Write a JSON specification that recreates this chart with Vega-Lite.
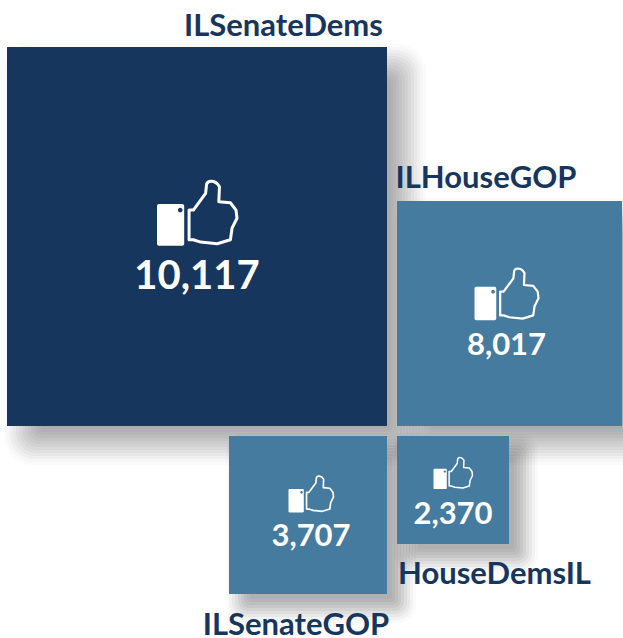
{
"$schema":"https://vega.github.io/schema/vega-lite/v6.json",
"width":623,"height":638,"padding":0,
"autosize":{"type":"none"},
"background":"white",
"config":{"view":{"stroke":null}},
"resolve":{"scale":{"size":"independent"}},
"data":{"values":[
{"account":"ILSenateDems","likes":10117,"tier":"top","left":7,"right":387,"top":47,"bottom":426,"cx":197,"icon_y":213,"value_y":277,"label_x":283.5,"label_y":26.5},
{"account":"ILHouseGOP","likes":8017,"tier":"other","left":397,"right":622,"top":201,"bottom":426,"cx":506.5,"icon_y":294,"value_y":346,"label_x":486,"label_y":179},
{"account":"ILSenateGOP","likes":3707,"tier":"other","left":229,"right":387,"top":436,"bottom":594,"cx":311,"icon_y":494,"value_y":537,"label_x":296,"label_y":625.5},
{"account":"HouseDemsIL","likes":2370,"tier":"other","left":397,"right":509,"top":436,"bottom":544,"cx":453,"icon_y":473,"value_y":515,"label_x":494.5,"label_y":575}
]},
"layer":[
{"transform":[{"filter":"datum.likes > 5000"}],
 "encoding":{"x":{"field":"left","type":"quantitative","scale":{"domain":[0,623],"nice":false,"zero":false},"axis":null},"x2":{"field":"right"},"y":{"field":"top","type":"quantitative","scale":{"domain":[0,638],"nice":false,"zero":false,"reverse":true},"axis":null},"y2":{"field":"bottom"}},
 "layer":[
 {"mark":{"type":"rect","color":"black","opacity":0.014,"cornerRadius":28,"xOffset":-3,"x2Offset":39,"yOffset":-3,"y2Offset":39}},
 {"mark":{"type":"rect","color":"black","opacity":0.02,"cornerRadius":26,"xOffset":0,"x2Offset":36,"yOffset":0,"y2Offset":36}},
 {"mark":{"type":"rect","color":"black","opacity":0.026,"cornerRadius":24,"xOffset":3,"x2Offset":33,"yOffset":3,"y2Offset":33}},
 {"mark":{"type":"rect","color":"black","opacity":0.028,"cornerRadius":22,"xOffset":6,"x2Offset":30,"yOffset":6,"y2Offset":30}},
 {"mark":{"type":"rect","color":"black","opacity":0.03,"cornerRadius":20,"xOffset":9,"x2Offset":27,"yOffset":9,"y2Offset":27}},
 {"mark":{"type":"rect","color":"black","opacity":0.03,"cornerRadius":18,"xOffset":12,"x2Offset":24,"yOffset":12,"y2Offset":24}},
 {"mark":{"type":"rect","color":"black","opacity":0.03,"cornerRadius":16,"xOffset":15,"x2Offset":21,"yOffset":15,"y2Offset":21}},
 {"mark":{"type":"rect","color":"black","opacity":0.03,"cornerRadius":14,"xOffset":18,"x2Offset":18,"yOffset":18,"y2Offset":18}},
 {"mark":{"type":"rect","color":"black","opacity":0.03,"cornerRadius":12,"xOffset":21,"x2Offset":15,"yOffset":21,"y2Offset":15}},
 {"mark":{"type":"rect","color":"black","opacity":0.03,"cornerRadius":10,"xOffset":24,"x2Offset":12,"yOffset":24,"y2Offset":12}},
 {"mark":{"type":"rect","color":"black","opacity":0.028,"cornerRadius":8,"xOffset":27,"x2Offset":9,"yOffset":27,"y2Offset":9}},
 {"mark":{"type":"rect","color":"black","opacity":0.026,"cornerRadius":6,"xOffset":30,"x2Offset":6,"yOffset":30,"y2Offset":6}},
 {"mark":{"type":"rect","color":"black","opacity":0.02,"cornerRadius":4,"xOffset":33,"x2Offset":3,"yOffset":33,"y2Offset":3}},
 {"mark":{"type":"rect","color":"black","opacity":0.014,"cornerRadius":2,"xOffset":36,"x2Offset":0,"yOffset":36,"y2Offset":0}}
 ]},
{"transform":[{"filter":"datum.likes < 5000"}],
 "encoding":{"x":{"field":"left","type":"quantitative","scale":{"domain":[0,623],"nice":false,"zero":false},"axis":null},"x2":{"field":"right"},"y":{"field":"top","type":"quantitative","scale":{"domain":[0,638],"nice":false,"zero":false,"reverse":true},"axis":null},"y2":{"field":"bottom"}},
 "layer":[
 {"mark":{"type":"rect","color":"black","opacity":0.02,"cornerRadius":18,"xOffset":-3,"x2Offset":29,"yOffset":-3,"y2Offset":29}},
 {"mark":{"type":"rect","color":"black","opacity":0.03,"cornerRadius":16,"xOffset":0,"x2Offset":26,"yOffset":0,"y2Offset":26}},
 {"mark":{"type":"rect","color":"black","opacity":0.04,"cornerRadius":14,"xOffset":3,"x2Offset":23,"yOffset":3,"y2Offset":23}},
 {"mark":{"type":"rect","color":"black","opacity":0.045,"cornerRadius":12,"xOffset":6,"x2Offset":20,"yOffset":6,"y2Offset":20}},
 {"mark":{"type":"rect","color":"black","opacity":0.05,"cornerRadius":10,"xOffset":9,"x2Offset":17,"yOffset":9,"y2Offset":17}},
 {"mark":{"type":"rect","color":"black","opacity":0.05,"cornerRadius":8,"xOffset":12,"x2Offset":14,"yOffset":12,"y2Offset":14}},
 {"mark":{"type":"rect","color":"black","opacity":0.045,"cornerRadius":6,"xOffset":15,"x2Offset":11,"yOffset":15,"y2Offset":11}},
 {"mark":{"type":"rect","color":"black","opacity":0.04,"cornerRadius":4,"xOffset":18,"x2Offset":8,"yOffset":18,"y2Offset":8}},
 {"mark":{"type":"rect","color":"black","opacity":0.03,"cornerRadius":2,"xOffset":21,"x2Offset":5,"yOffset":21,"y2Offset":5}}
 ]},
{"mark":{"type":"rect"},"encoding":{"x":{"field":"left","type":"quantitative","scale":{"domain":[0,623],"nice":false,"zero":false},"axis":null},"x2":{"field":"right"},"y":{"field":"top","type":"quantitative","scale":{"domain":[0,638],"nice":false,"zero":false,"reverse":true},"axis":null},"y2":{"field":"bottom"},"color":{"field":"tier","type":"nominal","scale":{"domain":["top","other"],"range":["#17365d","#467ba0"]},"legend":null}}},
{"mark":{"type":"point","filled":true,"fill":"white","stroke":null,"opacity":1,"shape":"M-.95 -.223H-.37A.05 .05 0 0 1 -.32 -.173V.768A.05 .05 0 0 1 -.37 .818H-.95A.05 .05 0 0 1 -1 .768V-.173A.05 .05 0 0 1 -.95 -.223ZM-.42 -.132A.058 .058 0 0 0 -.42 -.016A.058 .058 0 0 0 -.42 -.132Z"},"encoding":{"x":{"field":"cx","type":"quantitative","scale":{"domain":[0,623],"nice":false,"zero":false},"axis":null},"y":{"field":"icon_y","type":"quantitative","scale":{"domain":[0,638],"nice":false,"zero":false,"reverse":true},"axis":null},"size":{"field":"likes","type":"quantitative","scale":{"domain":[2370,3707,8017,10117],"range":[1521,2025,4096,6400]},"legend":null}}},
{"mark":{"type":"point","filled":false,"fill":null,"stroke":"white","opacity":1,"strokeJoin":"round","shape":"M-.198 -.074L-.091 -.074L.215 -.488L.24 -.72C.27 -.818 .463 -.835 .562 -.653L.545 -.281L.835 -.256L.975 -.074L1 .132L.876 .38L.835 .669L.504 .769L.091 .727L-.091 .669L-.198 .669Z"},"encoding":{"x":{"field":"cx","type":"quantitative","scale":{"domain":[0,623],"nice":false,"zero":false},"axis":null},"y":{"field":"icon_y","type":"quantitative","scale":{"domain":[0,638],"nice":false,"zero":false,"reverse":true},"axis":null},"size":{"field":"likes","type":"quantitative","scale":{"domain":[2370,3707,8017,10117],"range":[1521,2025,4096,6400]},"legend":null},"strokeWidth":{"field":"likes","type":"quantitative","scale":{"domain":[2370,8017,10117],"range":[1.5,2.2,3]},"legend":null}}},
{"mark":{"type":"text","font":"Lato","fontWeight":"bold","color":"white","align":"center","baseline":"middle"},"encoding":{"x":{"field":"cx","type":"quantitative","scale":{"domain":[0,623],"nice":false,"zero":false},"axis":null},"y":{"field":"value_y","type":"quantitative","scale":{"domain":[0,638],"nice":false,"zero":false,"reverse":true},"axis":null},"text":{"field":"likes","type":"quantitative","format":","},"size":{"field":"likes","type":"quantitative","scale":{"domain":[2370,8017,10117],"range":[31,31,40]},"legend":null}}},
{"mark":{"type":"text","font":"Lato","fontWeight":"bold","color":"#17365d","align":"center","baseline":"middle","fontSize":31},"encoding":{"x":{"field":"label_x","type":"quantitative","scale":{"domain":[0,623],"nice":false,"zero":false},"axis":null},"y":{"field":"label_y","type":"quantitative","scale":{"domain":[0,638],"nice":false,"zero":false,"reverse":true},"axis":null},"text":{"field":"account","type":"nominal"}}}
]
}
